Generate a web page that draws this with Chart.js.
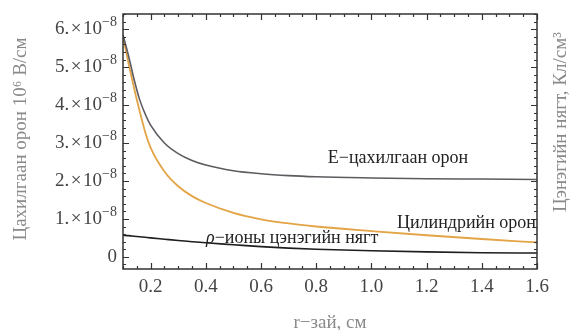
<!DOCTYPE html>
<html lang="mn">
  <head>
    <meta charset="UTF-8" />
    <script src="https://cdn.jsdelivr.net/npm/chart.js@4.4.0/dist/chart.umd.min.js"></script>
    <title>цахилгаан орон</title>
    <style>
      html, body { margin: 0; padding: 0; background: #fff; }
      #wrap { width: 576px; height: 330px; }
    </style>
  </head>
  <body>
    <div id="wrap"><canvas id="myChart" width="576" height="330"></canvas></div>

    <script>
      // r, cm
      const rVals = [0.1, 0.12, 0.14, 0.16, 0.18, 0.2, 0.25, 0.3, 0.35, 0.4, 0.5, 0.6, 0.7, 0.8, 1.0, 1.2, 1.4, 1.6];
      // values in units of 10^-8
      const eField   = [5.85, 5.3, 4.68, 4.15, 3.77, 3.47, 3.0, 2.72, 2.54, 2.42, 2.27, 2.19, 2.14, 2.11, 2.08, 2.06, 2.05, 2.04];
      const cylField = [5.8, 5.1, 4.45, 3.85, 3.3, 2.88, 2.25, 1.86, 1.6, 1.42, 1.16, 0.99, 0.88, 0.8, 0.68, 0.57, 0.47, 0.38];
      const rhoVals  = [0.57, 0.56, 0.545, 0.53, 0.515, 0.5, 0.465, 0.43, 0.4, 0.37, 0.32, 0.27, 0.23, 0.2, 0.16, 0.13, 0.11, 0.1];

      const xTicks = [0.2, 0.4, 0.6, 0.8, 1.0, 1.2, 1.4, 1.6];
      const yTicks = [0, 1, 2, 3, 4, 5, 6];

      const serif = '"Liberation Serif", "DejaVu Serif", serif';

      function pts(ys) {
        return rVals.map((x, i) => ({ x: x, y: ys[i] }));
      }

      // frame, inward ticks, tick labels and titles
      const framePlugin = {
        id: 'frame',
        afterDraw(chart) {
          const c = chart.ctx;
          const a = chart.chartArea;
          const xs = chart.scales.x, ys = chart.scales.y;
          c.save();
          c.strokeStyle = '#333';
          c.lineWidth = 1.5;
          c.strokeRect(a.left, a.top, a.right - a.left, a.bottom - a.top);

          c.lineWidth = 1.2;
          c.beginPath();
          // x ticks, top and bottom
          for (let v = 0.1; v <= 1.6001; v += 0.05) {
            const px = Math.round(xs.getPixelForValue(v)) + 0.5;
            const major = xTicks.some(t => Math.abs(t - v) < 1e-6);
            const len = major ? 6 : 3;
            c.moveTo(px, a.bottom); c.lineTo(px, a.bottom - len);
            c.moveTo(px, a.top); c.lineTo(px, a.top + len);
          }
          // y ticks, left and right
          for (let v = -0.2; v <= 6.4001; v += 0.2) {
            const py = Math.round(ys.getPixelForValue(v)) + 0.5;
            const major = yTicks.some(t => Math.abs(t - v) < 1e-6);
            const len = major ? 6 : 3;
            c.moveTo(a.left, py); c.lineTo(a.left + len, py);
            c.moveTo(a.right, py); c.lineTo(a.right - len, py);
          }
          c.stroke();

          // x tick labels
          c.fillStyle = '#444';
          c.font = '19px ' + serif;
          c.textAlign = 'center';
          c.textBaseline = 'middle';
          xTicks.forEach(t => {
            c.fillText(t.toFixed(1), xs.getPixelForValue(t), 287);
          });

          // y tick labels  n.×10^-8
          yTicks.forEach(t => {
            const py = ys.getPixelForValue(t);
            const right = 117;
            c.textBaseline = 'middle';
            if (t === 0) {
              c.font = '19px ' + serif;
              c.textAlign = 'right';
              c.fillText('0', right, py);
              return;
            }
            c.font = '14px ' + serif;
            const sup = '\u22128';
            const supW = c.measureText(sup).width;
            c.textAlign = 'left';
            c.fillText(sup, right - supW, py - 7);
            c.font = '19px ' + serif;
            c.textAlign = 'right';
            c.fillText(t + '.\u200a\u00d7\u200a10', right - supW, py);
          });

          // in-plot labels
          c.fillStyle = '#222';
          c.font = '18px ' + serif;
          c.textAlign = 'center';
          c.fillText('E\u2212цахилгаан орон', 398, 158);
          c.textAlign = 'right';
          c.fillText('Цилиндрийн орон', 536, 223);
          c.textAlign = 'left';
          c.font = 'italic 18px ' + serif;
          c.fillText('\u03c1', 206, 238);
          const rw = c.measureText('\u03c1').width;
          c.font = '18px ' + serif;
          c.fillText('\u2212ионы цэнэгийн нягт', 206 + rw, 238);

          // axis titles
          c.fillStyle = '#8a8a8a';
          c.font = '19px ' + serif;
          c.textAlign = 'center';
          c.fillText('r\u2212зай, см', 330, 323);

          // left title, reading bottom to top
          c.save();
          c.translate(21, 139);
          c.rotate(-Math.PI / 2);
          c.fillText('Цахилгаан орон 10\u2076 В/см', 0, 0);
          c.restore();

          // right title, also reading bottom to top
          c.save();
          c.translate(561, 122);
          c.rotate(-Math.PI / 2);
          c.fillText('Цэнэгийн нягт, Кл/см\u00b3', 0, 0);
          c.restore();

          c.restore();
        }
      };

      const ctx = document.getElementById('myChart');
      const myChart = new Chart(ctx, {
        type: 'line',
        data: {
          datasets: [
            { label: 'E', data: pts(eField), borderColor: '#5e5a60', borderWidth: 1.6 },
            { label: 'cyl', data: pts(cylField), borderColor: '#e3a445', borderWidth: 1.8 },
            { label: 'rho', data: pts(rhoVals), borderColor: '#1e1e1e', borderWidth: 1.6 }
          ]
        },
        options: {
          responsive: false,
          animation: false,
          layout: { padding: { left: 123, right: 39, top: 14, bottom: 61 } },
          elements: {
            point: { radius: 0 },
            line: { cubicInterpolationMode: 'monotone' }
          },
          plugins: { legend: { display: false }, tooltip: { enabled: false } },
          scales: {
            x: { type: 'linear', min: 0.1, max: 1.6, display: false },
            y: { type: 'linear', min: -0.32, max: 6.4, display: false }
          }
        },
        plugins: [framePlugin]
      });
    </script>
  </body>
</html>
